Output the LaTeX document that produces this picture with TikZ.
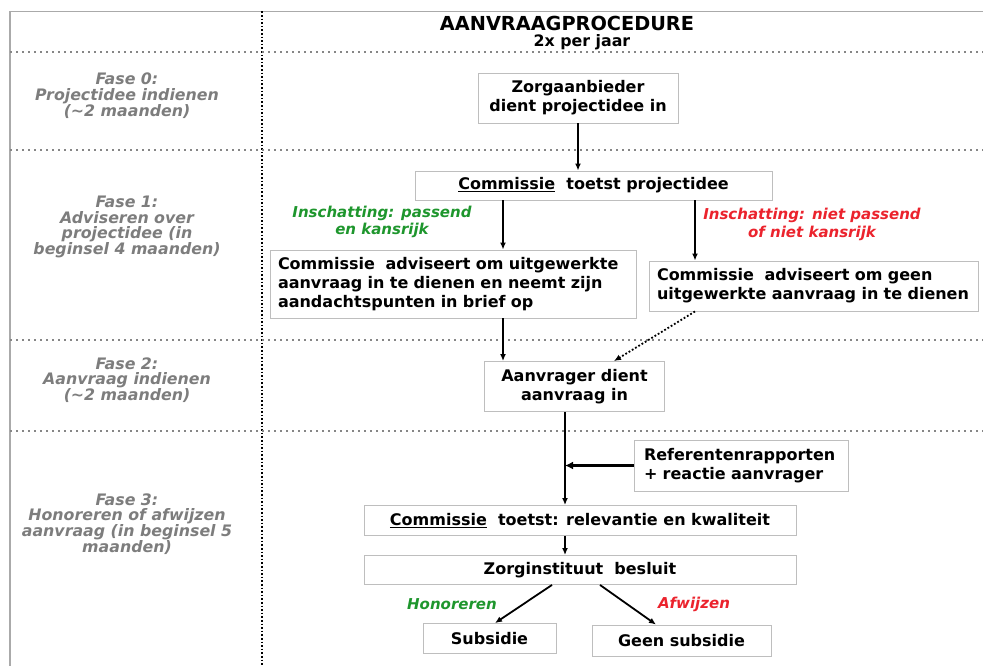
\documentclass[tikz,border=0pt]{standalone}
\usepackage{fontspec}
\setmainfont{DejaVu Sans}
\usetikzlibrary{arrows.meta}
\definecolor{phasegray}{RGB}{125,125,125}
\definecolor{okgreen}{RGB}{30,150,45}
\definecolor{nored}{RGB}{235,35,45}
\definecolor{framegray}{RGB}{170,170,170}
\definecolor{boxgray}{RGB}{190,190,190}
\tikzset{
  box/.style={draw=boxgray, line width=0.9pt, fill=white, font=\bfseries\fontsize{16}{19}\selectfont, inner sep=0pt, align=center},
  phase/.style={text=phasegray, font=\bfseries\itshape\fontsize{15.8}{15.8}\selectfont, align=center},
  lbl/.style={font=\bfseries\itshape\fontsize{15}{17.5}\selectfont, align=center},
  arr/.style={-{Latex[length=7pt,width=6pt]}, line width=1.8pt},
  darr/.style={-{Latex[length=7pt,width=6pt]}, line width=1.8pt, dotted},
  tarr/.style={-{Latex[length=8pt,width=8pt]}, line width=3.5pt},
  hsep/.style={draw=gray!95, line width=2pt, dash pattern=on 2pt off 4pt},
}
\begin{document}
\begin{tikzpicture}[x=1pt,y=-1pt]
\useasboundingbox (0,0) rectangle (983,666);
% frame
\draw[framegray, line width=1.5pt] (10,666) -- (10,11.5) -- (983,11.5);
\draw[black, line width=1.6pt, dotted] (262,11.5) -- (262,666);
\foreach \yy in {52.5,150.5,339.5,430.5} \draw[hsep] (10,\yy) -- (983,\yy);
% title
\node[font=\bfseries\fontsize{19.3}{22}\selectfont] (title) at (567,23) {AANVRAAGPROCEDURE};
\node[font=\bfseries\fontsize{15.8}{18}\selectfont] (freq) at (582,42) {2x per jaar};
% phases
\node[phase] (f0) at (127,95.5) {Fase 0:\\Projectidee indienen\\(\textasciitilde2 maanden)};
\node[phase] (f1) at (127,227) {Fase 1:\\Adviseren over\\projectidee (in\\beginsel 4 maanden)};
\node[phase] (f2) at (127,380) {Fase 2:\\Aanvraag indienen\\(\textasciitilde2 maanden)};
\node[phase] (f3) at (127,524) {Fase 3:\\Honoreren of afwijzen\\aanvraag (in beginsel 5\\maanden)};
% boxes
\node[box, minimum width=200pt, minimum height=50pt] (zorg0) at (578,98) {Zorgaanbieder\\dient projectidee in};
\node[box, minimum width=357pt, minimum height=29pt] (comm1) at (593.5,185.5) {\underline{Commissie}\ \ toetst projectidee};
\node[box, minimum width=366pt, minimum height=68pt, text width=350pt, align=left] (advL) at (453,284) {Commissie\ \ adviseert om uitgewerkte\\aanvraag in te dienen en neemt zijn\\aandachtspunten in brief op};
\node[box, minimum width=329pt, minimum height=50pt, text width=313pt, align=left] (advR) at (813.5,286) {Commissie\ \ adviseert om geen\\uitgewerkte aanvraag in te dienen};
\node[box, minimum width=180pt, minimum height=50pt] (aanv) at (574.5,386.5) {Aanvrager dient\\aanvraag in};
\node[box, minimum width=214pt, minimum height=51pt, text width=194pt, align=left] (ref) at (741,465.5) {Referentenrapporten\\+ reactie aanvrager};
\node[box, minimum width=432pt, minimum height=30pt] (comm3) at (580,520.5) {\underline{Commissie}\ \ toetst: relevantie en kwaliteit};
\node[box, minimum width=432pt, minimum height=29pt] (zorgi) at (580,570) {Zorginstituut\ \ besluit};
\node[box, minimum width=133pt, minimum height=30pt] (sub) at (489.5,638.5) {Subsidie};
\node[box, minimum width=179pt, minimum height=31pt] (geen) at (681.5,640.5) {Geen subsidie};
% labels
\node[lbl, text=okgreen] (l1) at (382,222) {Inschatting: passend\\en kansrijk};
\node[lbl, text=nored] (l2) at (812,224.5) {Inschatting: niet passend\\of niet kansrijk};
\node[lbl, text=okgreen] (l3) at (452,604) {Honoreren};
\node[lbl, text=nored] (l4) at (694,604) {Afwijzen};
% helper coordinates
\coordinate (xL) at (503,0);
\coordinate (xR) at (695,0);
\coordinate (xD) at (614,0);
\coordinate (xM) at (565,0);
\coordinate (xA) at (552,0);
\coordinate (xB) at (600,0);
\coordinate (xS) at (495,0);
\coordinate (xG) at (656,0);
% connectors
\draw[arr] (zorg0.south) -- (zorg0.south |- comm1.north);
\draw[arr] (comm1.south -| xL) -- (advL.north -| xL);
\draw[arr] (comm1.south -| xR) -- (advR.north -| xR);
\draw[arr] (advL.south -| xL) -- (aanv.north -| xL);
\draw[darr] (advR.south -| xR) -- (aanv.north -| xD);
\draw[arr] (aanv.south -| xM) -- (comm3.north -| xM);
\draw[tarr] (ref.west) -- (ref.west -| xM);
\draw[arr] (comm3.south -| xM) -- (zorgi.north -| xM);
\draw[arr] (zorgi.south -| xA) -- (sub.north -| xS);
\draw[arr] (zorgi.south -| xB) -- (geen.north -| xG);
\end{tikzpicture}
\end{document}
